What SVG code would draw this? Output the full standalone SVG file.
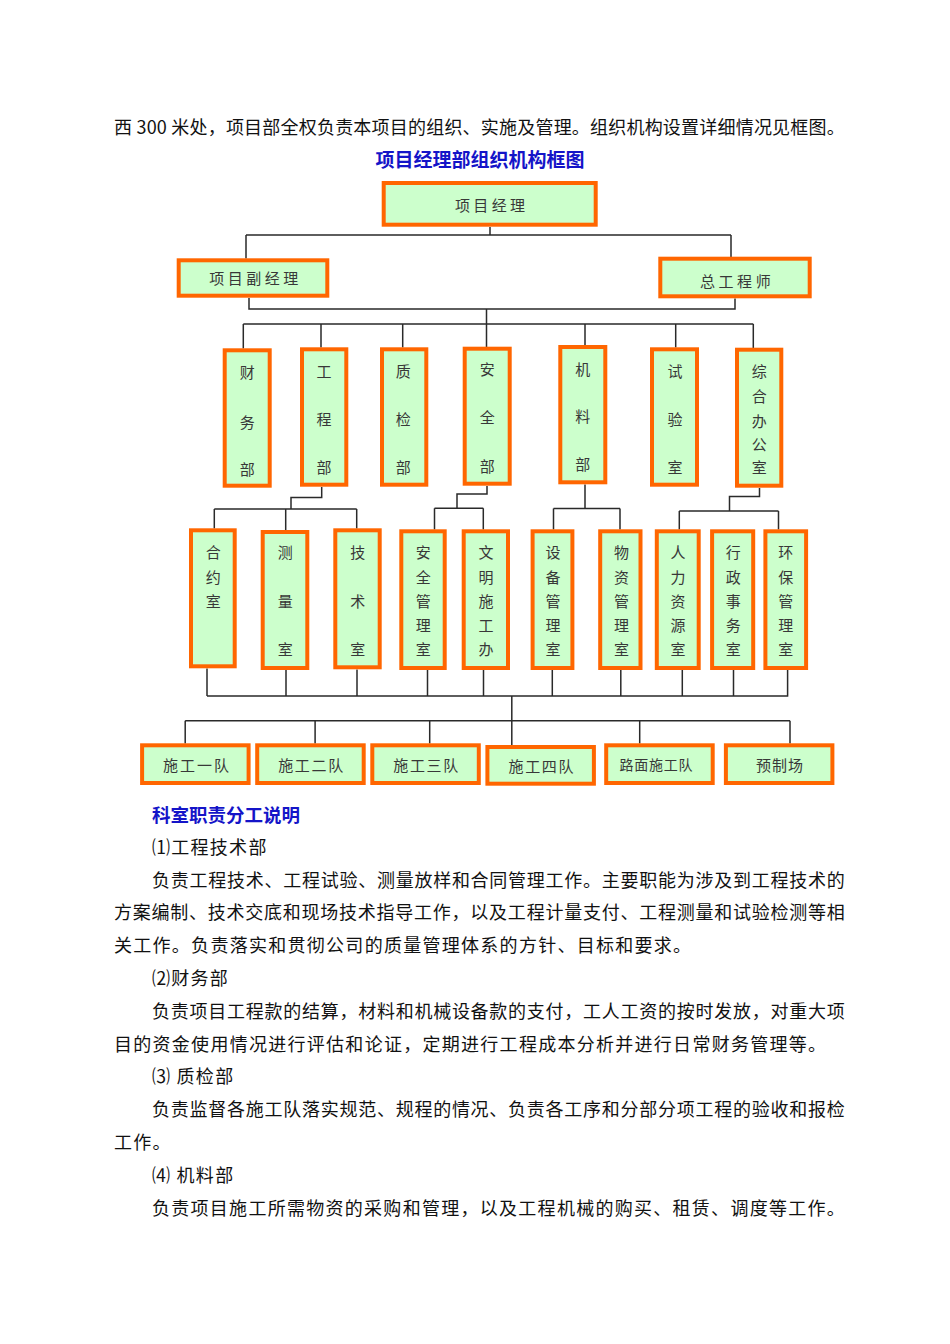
<svg xmlns="http://www.w3.org/2000/svg" width="950" height="1344" viewBox="0 0 950 1344">
<style>
.bg{fill:#ffffff}
.box{fill:#ccffcc;stroke:#ff6600;stroke-width:4}
.lbl{font-family:"Noto Sans CJK SC","Noto Sans",sans-serif;font-size:15px;fill:#383838;text-anchor:middle;dominant-baseline:central}
.sm{font-size:14px}
.v{font-family:"Noto Sans CJK SC","Noto Sans",sans-serif;font-size:15px;fill:#383838;text-anchor:middle;dominant-baseline:central}
.conn{fill:none;stroke:#2a2a2a;stroke-width:1.5}
.body{font-family:"Noto Sans CJK SC","Noto Sans",sans-serif;font-size:18px;letter-spacing:1.28px;fill:#111;dominant-baseline:central}
.ttl{font-family:"Noto Sans CJK SC","Noto Sans",sans-serif;font-size:19px;font-weight:bold;fill:#1414c8;dominant-baseline:central}
</style>
<rect class="bg" x="0" y="0" width="950" height="1344"/>

<g id="text-top">
<text class="body" x="114" y="126" textLength="732" lengthAdjust="spacing">西 300 米处，项目部全权负责本项目的组织、实施及管理。组织机构设置详细情况见框图。</text>
<text class="ttl" x="480" y="158" text-anchor="middle">项目经理部组织机构框图</text>
</g>

<g id="connectors">
<path class="conn" d="M490,227 V235 M246,235 H731 M246,235 V258.5 M731,235 V257"/>
<path class="conn" d="M249,298 V309 H735 V298.5 M486.5,309 V347"/>
<path class="conn" d="M243.3,324 H753.3 M243.3,324 V348.5 M321,324 V347.5 M402.7,324 V347.5 M585,324 V345.2 M675.7,324 V347.5 M753.3,324 V348"/>
<path class="conn" d="M321.7,487 V497.5 H291 V509 M214.3,509 H356.7 M214.3,509 V528.5 M285.7,509 V530.2 M356.7,509 V528.5"/>
<path class="conn" d="M487,486 V494 H457 V508.3 M434.5,508.3 H483.3 M434.5,508.3 V529.5 M483.3,508.3 V529.5"/>
<path class="conn" d="M585,484.5 V508.5 M553.5,508.5 H620 M553.5,508.5 V529.5 M620,508.5 V529.5"/>
<path class="conn" d="M759.5,488 V496.5 H729.5 V511 M679.3,511 H778.5 M679.3,511 V529.5 M778.5,511 V529.5"/>
<path class="conn" d="M207,668.5 V696 M286,670 V696 M357,669.5 V696 M427.5,670 V696 M483.5,670 V696 M552.3,670 V696 M620.8,670 V696 M682.3,670 V696 M733.5,670 V696 M787.6,670 V696 M207,696 H788.3"/>
<path class="conn" d="M511.8,696 V745 M185.2,720.7 H790 M185.2,720.7 V743.5 M315.1,720.7 V743.5 M429.7,720.7 V743.5 M639.7,720.7 V743.5 M790,720.7 V743.5"/>
</g>

<g id="n-xmjl"><rect class="box" x="383.7" y="183" width="212" height="41.7"/><text class="lbl" x="490" y="204.3" textLength="70" lengthAdjust="spacing">项目经理</text></g>
<g id="n-fjl"><rect class="box" x="178.7" y="260.3" width="148.6" height="35.4"/><text class="lbl" x="253.8" y="277" textLength="89" lengthAdjust="spacing">项目副经理</text></g>
<g id="n-zgcs"><rect class="box" x="660.3" y="258.7" width="149.4" height="37.6"/><text class="lbl" x="735.3" y="280" textLength="70.7" lengthAdjust="spacing">总工程师</text></g>

<g id="n-cwb"><rect class="box" x="224.7" y="350.3" width="45" height="135.4"/><text class="v" x="247.3" y="371.7">财</text><text class="v" x="247.3" y="421.7">务</text><text class="v" x="247.3" y="468.3">部</text></g>
<g id="n-gcb"><rect class="box" x="302" y="349.3" width="44.3" height="135.4"/><text class="v" x="324" y="370">工</text><text class="v" x="324" y="418">程</text><text class="v" x="324" y="466.7">部</text></g>
<g id="n-zjb"><rect class="box" x="382" y="349.3" width="44.3" height="135.4"/><text class="v" x="403.3" y="370">质</text><text class="v" x="403.3" y="418">检</text><text class="v" x="403.3" y="466.7">部</text></g>
<g id="n-aqb"><rect class="box" x="464.7" y="348.7" width="45" height="135"/><text class="v" x="487.3" y="368.3">安</text><text class="v" x="487.3" y="416.7">全</text><text class="v" x="487.3" y="465">部</text></g>
<g id="n-jlb"><rect class="box" x="560.3" y="347" width="45" height="135.3"/><text class="v" x="582.7" y="368.3">机</text><text class="v" x="582.7" y="415">料</text><text class="v" x="582.7" y="463.3">部</text></g>
<g id="n-sys"><rect class="box" x="652" y="349.3" width="45" height="135.4"/><text class="v" x="675" y="370">试</text><text class="v" x="675" y="418.3">验</text><text class="v" x="675" y="466.7">室</text></g>
<g id="n-zhbgs"><rect class="box" x="737" y="349.7" width="44.3" height="136"/><text class="v" x="759.3" y="370">综</text><text class="v" x="759.3" y="395">合</text><text class="v" x="759.3" y="420">办</text><text class="v" x="759.3" y="443.3">公</text><text class="v" x="759.3" y="466.7">室</text></g>

<g id="n-hys"><rect class="box" x="191" y="530.3" width="43.7" height="136"/><text class="v" x="213.3" y="551.7">合</text><text class="v" x="213.3" y="576">约</text><text class="v" x="213.3" y="600">室</text></g>
<g id="n-cls"><rect class="box" x="262.7" y="532" width="44.6" height="136"/><text class="v" x="285.3" y="551.7">测</text><text class="v" x="285.3" y="600">量</text><text class="v" x="285.3" y="648.3">室</text></g>
<g id="n-jss"><rect class="box" x="335.3" y="530.3" width="44.4" height="137"/><text class="v" x="357.7" y="551.7">技</text><text class="v" x="357.7" y="600">术</text><text class="v" x="357.7" y="648.3">室</text></g>
<g id="n-aqgls"><rect class="box" x="401.3" y="531.3" width="43.4" height="136.7"/><text class="v" x="423.3" y="551.7">安</text><text class="v" x="423.3" y="576">全</text><text class="v" x="423.3" y="600">管</text><text class="v" x="423.3" y="624.3">理</text><text class="v" x="423.3" y="648.3">室</text></g>
<g id="n-wmsgb"><rect class="box" x="463.7" y="531.3" width="44.3" height="136.7"/><text class="v" x="486" y="551.7">文</text><text class="v" x="486" y="576">明</text><text class="v" x="486" y="600">施</text><text class="v" x="486" y="624.3">工</text><text class="v" x="486" y="648.3">办</text></g>
<g id="n-sbgls"><rect class="box" x="532.6" y="531.3" width="39.8" height="136.7"/><text class="v" x="553.1" y="551.7">设</text><text class="v" x="553.1" y="576">备</text><text class="v" x="553.1" y="600">管</text><text class="v" x="553.1" y="624.3">理</text><text class="v" x="553.1" y="648.3">室</text></g>
<g id="n-wzgls"><rect class="box" x="600.2" y="531.3" width="40.3" height="136.7"/><text class="v" x="621.4" y="551.7">物</text><text class="v" x="621.4" y="576">资</text><text class="v" x="621.4" y="600">管</text><text class="v" x="621.4" y="624.3">理</text><text class="v" x="621.4" y="648.3">室</text></g>
<g id="n-rlzys"><rect class="box" x="656.8" y="531.3" width="41.9" height="136.7"/><text class="v" x="678" y="551.7">人</text><text class="v" x="678" y="576">力</text><text class="v" x="678" y="600">资</text><text class="v" x="678" y="624.3">源</text><text class="v" x="678" y="648.3">室</text></g>
<g id="n-xzsws"><rect class="box" x="712.1" y="531.3" width="41.1" height="136.7"/><text class="v" x="733.3" y="551.7">行</text><text class="v" x="733.3" y="576">政</text><text class="v" x="733.3" y="600">事</text><text class="v" x="733.3" y="624.3">务</text><text class="v" x="733.3" y="648.3">室</text></g>
<g id="n-hbgls"><rect class="box" x="765.4" y="531.3" width="40.7" height="136.7"/><text class="v" x="785.8" y="551.7">环</text><text class="v" x="785.8" y="576">保</text><text class="v" x="785.8" y="600">管</text><text class="v" x="785.8" y="624.3">理</text><text class="v" x="785.8" y="648.3">室</text></g>

<g id="n-sg1"><rect class="box" x="142.1" y="745.3" width="106.5" height="37.7"/><text class="lbl" x="196" y="764.3" textLength="66" lengthAdjust="spacing">施工一队</text></g>
<g id="n-sg2"><rect class="box" x="257.2" y="745.3" width="106.5" height="37.7"/><text class="lbl" x="310.7" y="764.3" textLength="65" lengthAdjust="spacing">施工二队</text></g>
<g id="n-sg3"><rect class="box" x="372.3" y="745.3" width="106.5" height="37.7"/><text class="lbl" x="425.8" y="764.3" textLength="65" lengthAdjust="spacing">施工三队</text></g>
<g id="n-sg4"><rect class="box" x="487.4" y="747" width="106.5" height="36.7"/><text class="lbl" x="541" y="765" textLength="65" lengthAdjust="spacing">施工四队</text></g>
<g id="n-lm"><rect class="box" x="606.2" y="745.3" width="106.5" height="37.7"/><text class="lbl sm" x="656" y="764.3" textLength="73" lengthAdjust="spacing">路面施工队</text></g>
<g id="n-yzc"><rect class="box" x="725.9" y="745.3" width="106.5" height="37.7"/><text class="lbl" x="779.6" y="764.3" textLength="47" lengthAdjust="spacing">预制场</text></g>

<g id="text-bottom">
<text class="ttl" x="152" y="814" style="font-size:18.5px">科室职责分工说明</text>
<text class="body" x="152" y="846">⑴工程技术部</text>
<text class="body" x="152" y="879" textLength="694" lengthAdjust="spacing">负责工程技术、工程试验、测量放样和合同管理工作。主要职能为涉及到工程技术的</text>
<text class="body" x="114" y="911" textLength="732" lengthAdjust="spacing">方案编制、技术交底和现场技术指导工作，以及工程计量支付、工程测量和试验检测等相</text>
<text class="body" x="114" y="944">关工作。负责落实和贯彻公司的质量管理体系的方针、目标和要求。</text>
<text class="body" x="152" y="977">⑵财务部</text>
<text class="body" x="152" y="1010" textLength="694" lengthAdjust="spacing">负责项目工程款的结算，材料和机械设备款的支付，工人工资的按时发放，对重大项</text>
<text class="body" x="114" y="1043">目的资金使用情况进行评估和论证，定期进行工程成本分析并进行日常财务管理等。</text>
<text class="body" x="152" y="1075">⑶ 质检部</text>
<text class="body" x="152" y="1108" textLength="694" lengthAdjust="spacing">负责监督各施工队落实规范、规程的情况、负责各工序和分部分项工程的验收和报检</text>
<text class="body" x="114" y="1141">工作。</text>
<text class="body" x="152" y="1174">⑷ 机料部</text>
<text class="body" x="152" y="1207">负责项目施工所需物资的采购和管理，以及工程机械的购买、租赁、调度等工作。</text>
</g>
</svg>
